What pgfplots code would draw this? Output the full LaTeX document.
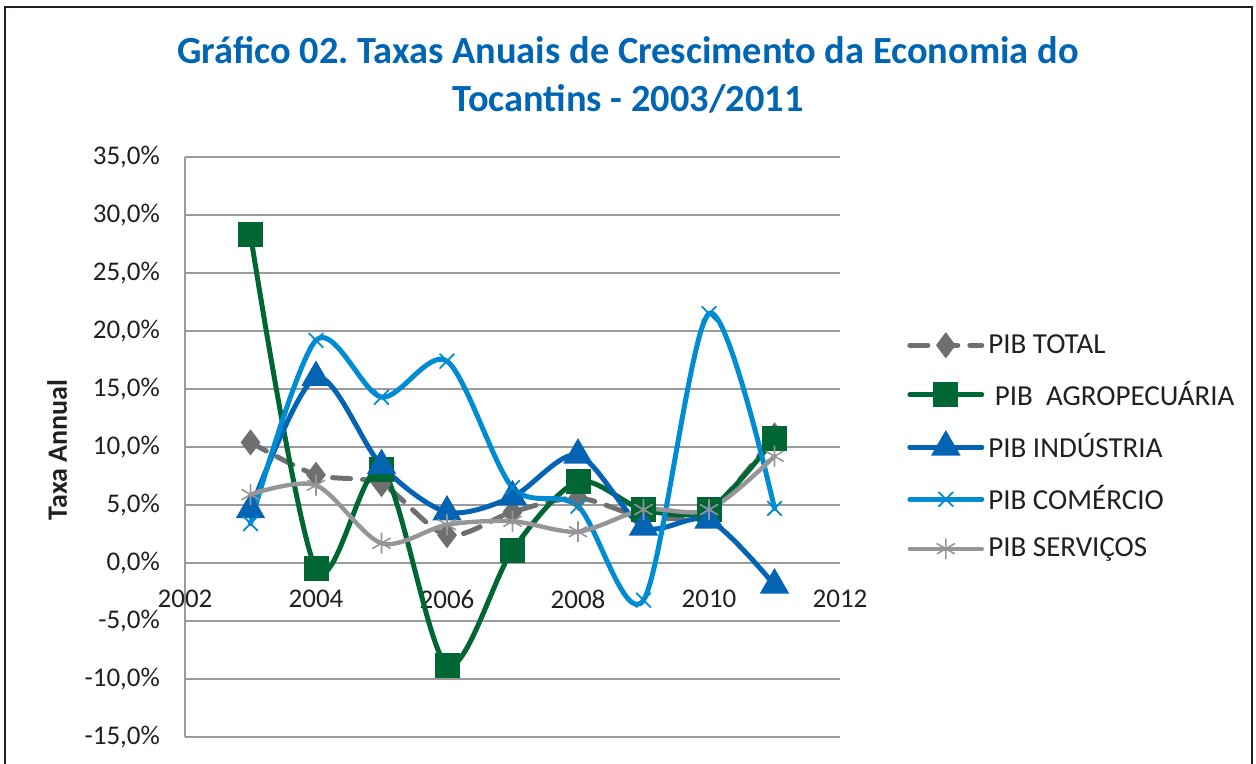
\documentclass[border=0pt]{standalone}
\usepackage{fontspec}
\setmainfont{Carlito}
\usepackage{pgfplots}
\pgfplotsset{compat=1.18}
\definecolor{ctitle}{RGB}{0,102,179}
\definecolor{ctotal}{RGB}{110,111,113}
\definecolor{cagro}{RGB}{0,102,51}
\definecolor{cind}{RGB}{5,99,180}
\definecolor{ccom}{RGB}{0,140,210}
\definecolor{cserv}{RGB}{150,150,152}
\definecolor{cgrid}{RGB}{155,155,155}
\definecolor{ctext}{RGB}{35,31,32}
\frenchspacing
\begin{document}
\begin{tikzpicture}
\useasboundingbox (0pt,0pt) rectangle (628pt,382pt);
\draw[line width=1.1pt, color=ctext] (2.5pt,0pt) -- (2.5pt,378.5pt) -- (626pt,378.5pt) -- (626pt,0pt);
\node[anchor=base, text=ctitle, font=\fontsize{19.2}{22}\selectfont\bfseries] at (314pt,350pt) {Gráfico 02. Taxas Anuais de Crescimento da Economia do};
\node[anchor=base, text=ctitle, font=\fontsize{19.2}{22}\selectfont\bfseries] at (314pt,326pt) {Tocantins - 2003/2011};
\begin{axis}[
  at={(92.5pt,13.5pt)}, anchor=south west,
  scale only axis, width=327.5pt, height=290pt,
  xmin=2002, xmax=2012, ymin=-15, ymax=35,
  axis y line*=left, axis x line*=bottom,
  axis line style={cgrid, line width=0.9pt},
  x axis line style={draw=none},
  ymajorgrids, grid style={cgrid, line width=0.9pt},
  major tick length=0pt,
  xtick={2002,2004,2006,2008,2010,2012},
  xticklabels={2002,2004,2006,2008,2010,2012},
  ytick={-15,-10,-5,0,5,10,15,20,25,30,35},
  yticklabels={{-15,0\%},{-10,0\%},{-5,0\%},{0,0\%},{5,0\%},{10,0\%},{15,0\%},{20,0\%},{25,0\%},{30,0\%},{35,0\%}},
  ticklabel style={font=\fontsize{13.5}{16}\selectfont, text=ctext},
  yticklabel style={xshift=-9pt},
  xticklabel style={yshift=77pt},
  ylabel={Taxa Annual},
  ylabel style={at={(axis description cs:-0.195,0.495)}, anchor=center, font=\fontsize{14}{16}\selectfont\bfseries, text=ctext},
  legend style={at={(1.093,0.5)}, anchor=west, draw=none, fill=none,
    font=\fontsize{14.5}{16}\selectfont, text=ctext, row sep=12.5pt, column sep=2pt,
    nodes={inner sep=0pt, anchor=west}},
  legend cell align=left,
  legend image code/.code={\draw[mark repeat=2,mark phase=2,#1] plot coordinates {(0pt,0pt)(18pt,0pt)(36pt,0pt)};},
  every axis plot/.append style={smooth, line cap=round},
]
\addplot[ctotal, line width=2.5pt, dash pattern=on 9pt off 6pt, mark=diamond*, mark size=4.5pt, mark options={solid, fill=ctotal}]
  coordinates {(2003,10.4)(2004,7.6)(2005,6.8)(2006,2.4)(2007,4.4)(2008,5.6)(2009,4.0)(2010,4.5)(2011,11.0)};
\addlegendentry{PIB TOTAL}
\addplot[cagro, line width=2.5pt, mark=square*, mark size=5pt, mark options={solid, fill=cagro}]
  coordinates {(2003,28.3)(2004,-0.5)(2005,8.1)(2006,-8.8)(2007,1.1)(2008,7.0)(2009,4.6)(2010,4.6)(2011,10.7)};
\addlegendentry{\ PIB\ \ AGROPECUÁRIA}
\addplot[cind, line width=2.5pt, mark=triangle*, mark size=6pt, mark options={solid, fill=cind}]
  coordinates {(2003,4.6)(2004,16.0)(2005,8.4)(2006,4.4)(2007,5.7)(2008,9.3)(2009,3.1)(2010,3.7)(2011,-1.9)};
\addlegendentry{PIB INDÚSTRIA}
\addplot[ccom, line width=2.5pt, mark=x, mark size=5pt, mark options={solid, line width=0.9pt}]
  coordinates {(2003,3.4)(2004,19.2)(2005,14.3)(2006,17.4)(2007,6.5)(2008,4.9)(2009,-3.2)(2010,21.5)(2011,4.7)};
\addlegendentry{PIB COMÉRCIO}
\addplot[cserv, line width=2.2pt, mark=asterisk, mark size=5pt, mark options={solid, line width=0.8pt}]
  coordinates {(2003,5.9)(2004,6.7)(2005,1.7)(2006,3.3)(2007,3.6)(2008,2.7)(2009,4.6)(2010,4.6)(2011,9.2)};
\addlegendentry{PIB SERVIÇOS}
\end{axis}
\end{tikzpicture}
\end{document}
